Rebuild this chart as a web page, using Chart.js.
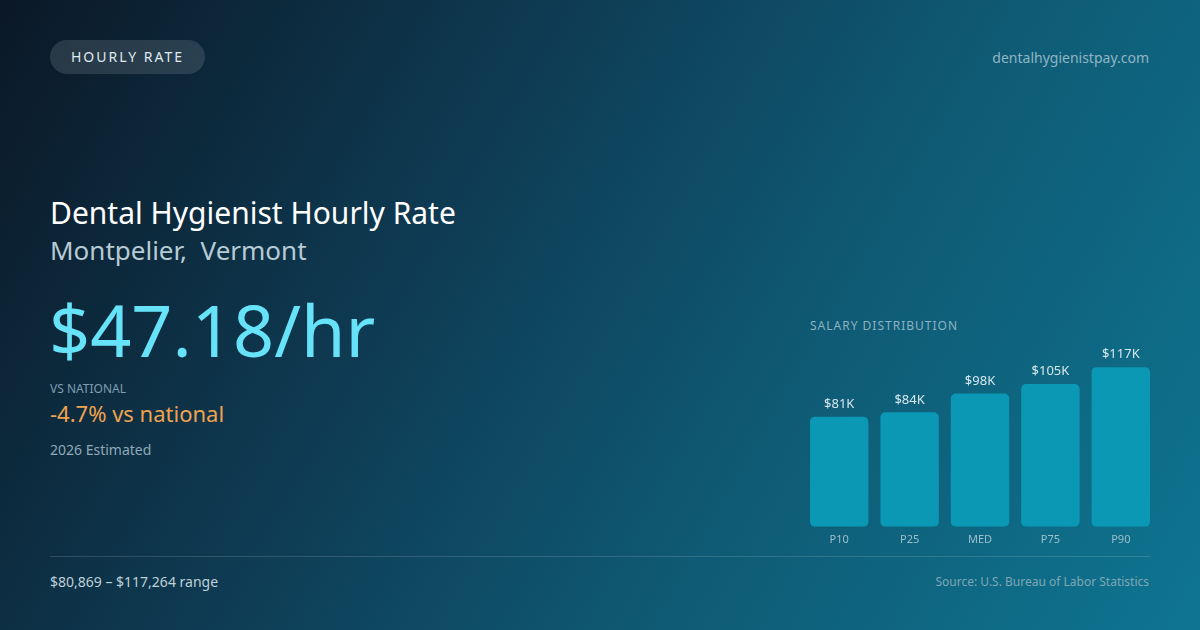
<!DOCTYPE html>
<html>
<head>
<meta charset="utf-8">
<script src="https://cdn.jsdelivr.net/npm/chart.js@4.4.1/dist/chart.umd.min.js"></script>
<style>
  html, body { margin: 0; padding: 0; }
  body {
    width: 1200px; height: 630px; overflow: hidden; position: relative;
    font-family: "Noto Sans", "Open Sans", sans-serif;
    background: linear-gradient(120deg, #0b1826 0%, #0e3a52 35%, #0f5a74 65%, #0e7591 100%);
  }
  .pill {
    position: absolute; left: 50px; top: 40px; width: 155px; height: 34px;
    border-radius: 17px; background: rgba(255,255,255,0.12);
    color: #dfe9ee; font-size: 14px; letter-spacing: 2px;
    line-height: 34px; text-align: center;
  }
  .domain { position: absolute; right: 51px; top: 48px; font-size: 14px; color: #8fb5c4; }
  .title { position: absolute; left: 50px; top: 192px; font-size: 30px; color: #ffffff; }
  .sub { position: absolute; left: 50px; top: 232px; font-size: 26px; color: #b6cbd5; }
  .big { position: absolute; left: 49px; top: 286px; font-size: 72px; color: #67e3f9; line-height: 1.2; }
  .vsl { position: absolute; left: 50px; top: 380px; font-size: 12px; color: #7f9fb0; }
  .vs { position: absolute; left: 50px; top: 398px; font-size: 22px; color: #f0a24e; }
  .est { position: absolute; left: 50px; top: 440px; font-size: 14px; color: #8fa9b8; }
  .sd { position: absolute; left: 810px; top: 317px; font-size: 12px; letter-spacing: 1px; color: #8db2c2; }
  .rule { position: absolute; left: 50px; top: 556px; width: 1100px; height: 1px; background: rgba(255,255,255,0.14); }
  .range { position: absolute; left: 50px; top: 572px; font-size: 14px; color: #bfd0d8; }
  .src { position: absolute; right: 51px; top: 573px; font-size: 12px; color: #7fa6b6; }
  #wrap { position: absolute; left: 804px; top: 343px; width: 352px; height: 209px; }
</style>
</head>
<body>
<div class="pill">HOURLY RATE</div>
<div class="domain">dentalhygienistpay.com</div>
<div class="title">Dental Hygienist Hourly Rate</div>
<div class="sub">Montpelier,&nbsp; Vermont</div>
<div class="big">$47.18/hr</div>
<div class="vsl">VS NATIONAL</div>
<div class="vs">-4.7% vs national</div>
<div class="est">2026 Estimated</div>
<div class="sd">SALARY DISTRIBUTION</div>
<div id="wrap"><canvas id="salaryChart"></canvas></div>
<div class="rule"></div>
<div class="range">$80,869 – $117,264 range</div>
<div class="src">Source: U.S. Bureau of Labor Statistics</div>

<script>
var percentiles = ["P10", "P25", "MED", "P75", "P90"];
var salaries = [80869, 84100, 97900, 104900, 117264];

// write $XK above each bar
var valueLabels = {
  id: "valueLabels",
  afterDatasetsDraw: function(chart) {
    var ctx = chart.ctx;
    var meta = chart.getDatasetMeta(0);
    ctx.save();
    ctx.font = "13px 'Noto Sans'";
    ctx.fillStyle = "#d6e7ed";
    ctx.textAlign = "center";
    ctx.textBaseline = "bottom";
    meta.data.forEach(function(bar, i) {
      ctx.fillText("$" + Math.round(salaries[i] / 1000) + "K", bar.x, bar.y - 6);
    });
    ctx.restore();
  }
};

new Chart("salaryChart", {
  type: "bar",
  data: {
    labels: percentiles,
    datasets: [{
      data: salaries,
      backgroundColor: "#0a98b5",
      borderRadius: 5,
      borderSkipped: false,
      barPercentage: 0.83,
      categoryPercentage: 1
    }]
  },
  options: {
    responsive: true,
    maintainAspectRatio: false,
    animation: false,
    layout: { padding: 0 },
    plugins: { legend: { display: false }, tooltip: { enabled: false } },
    scales: {
      x: {
        grid: { display: false, drawTicks: false },
        border: { display: false },
        ticks: { color: "#9dbfcb", font: { size: 11, family: "Noto Sans" }, padding: 6 }
      },
      y: { display: false, min: 0, max: 135000 }
    }
  },
  plugins: [valueLabels]
});
</script>
</body>
</html>
